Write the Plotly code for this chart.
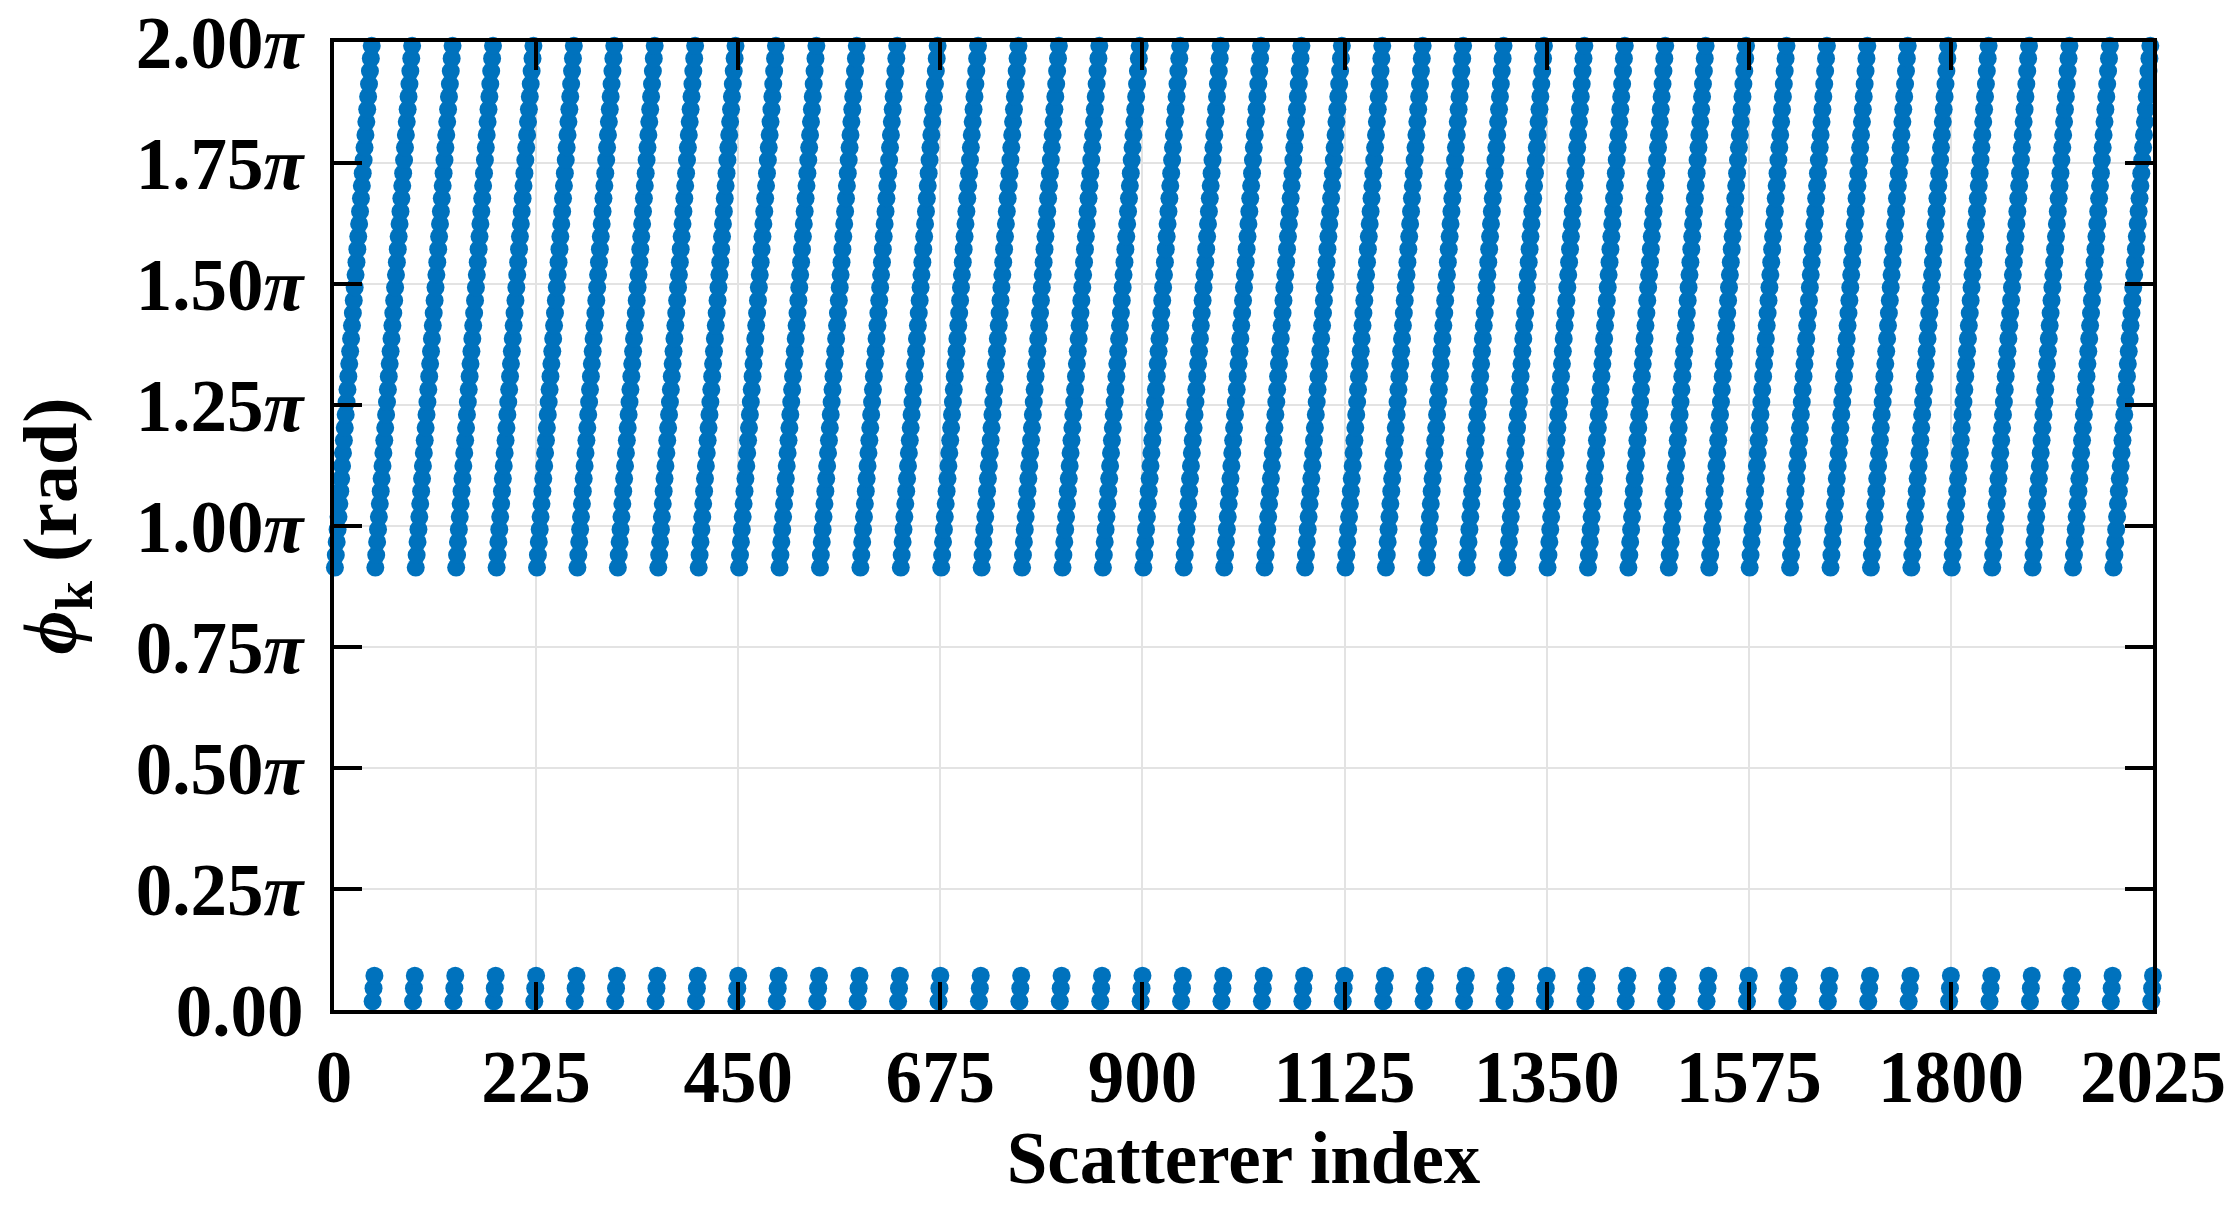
import numpy as np
import plotly.graph_objects as go

# Phase (in units of pi) of the 45 scatterers within one period
PHASE_PER_PERIOD = [
    0.914, 0.940, 0.967, 0.993, 1.019, 1.046, 1.072, 1.098, 1.124, 1.151,
    1.177, 1.203, 1.230, 1.256, 1.282, 1.309, 1.335, 1.361, 1.387, 1.414,
    1.440, 1.466, 1.493, 1.519, 1.545, 1.572, 1.598, 1.624, 1.650, 1.677,
    1.703, 1.729, 1.756, 1.782, 1.808, 1.835, 1.861, 1.887, 1.913, 1.940,
    1.966, 1.992, 0.018, 0.045, 0.071,
]
N_PERIODS = 45  # the same pattern repeats for every group of 45 scatterers

X_TICKS = [0, 225, 450, 675, 900, 1125, 1350, 1575, 1800, 2025]
Y_TICKS = [0, 0.25, 0.5, 0.75, 1.0, 1.25, 1.5, 1.75, 2.0]
Y_TICK_TEXT = ["0.00", "0.25<i>π</i>", "0.50<i>π</i>", "0.75<i>π</i>", "1.00<i>π</i>",
               "1.25<i>π</i>", "1.50<i>π</i>", "1.75<i>π</i>", "2.00<i>π</i>"]

phase = np.tile(PHASE_PER_PERIOD, N_PERIODS)
index = np.arange(1, len(phase) + 1)

FONT = "Liberation Serif, Times New Roman, serif"
FS = 73

fig = go.Figure()
fig.add_trace(go.Scatter(
    x=index, y=phase, mode="markers",
    marker=dict(size=18, color="#0072BD", line=dict(width=0)),
    cliponaxis=False, showlegend=False,
))

axis_common = dict(
    showline=True, linecolor="black", linewidth=4, mirror="ticks",
    ticks="inside", ticklen=28, tickwidth=4, tickcolor="black",
    showgrid=True, gridcolor="#e3e3e3", gridwidth=2, zeroline=False,
    automargin=False, ticklabeloverflow="allow",
    tickfont=dict(family=FONT, size=FS, color="black", weight="bold"),
)

fig.update_xaxes(
    range=[0, 2025], tickvals=X_TICKS, ticktext=[str(v) for v in X_TICKS],
    title=dict(text="Scatterer index", font=dict(family=FONT, size=FS, color="black", weight="bold"),
               standoff=10),
    **axis_common,
)
fig.update_yaxes(
    range=[0, 2], tickvals=Y_TICKS, ticktext=Y_TICK_TEXT,
    title=dict(text="<i>ϕ</i><sub>k</sub> (rad)", font=dict(family=FONT, size=76, color="black", weight="bold"),
               standoff=40),
    ticklabelstandoff=12,
    **axis_common,
)

fig.update_layout(
    width=2236, height=1205,
    margin=dict(l=326, r=91, t=34, b=203),
    plot_bgcolor="white", paper_bgcolor="white",
    font=dict(family=FONT, color="black"),
)

fig.write_html("out.html")
